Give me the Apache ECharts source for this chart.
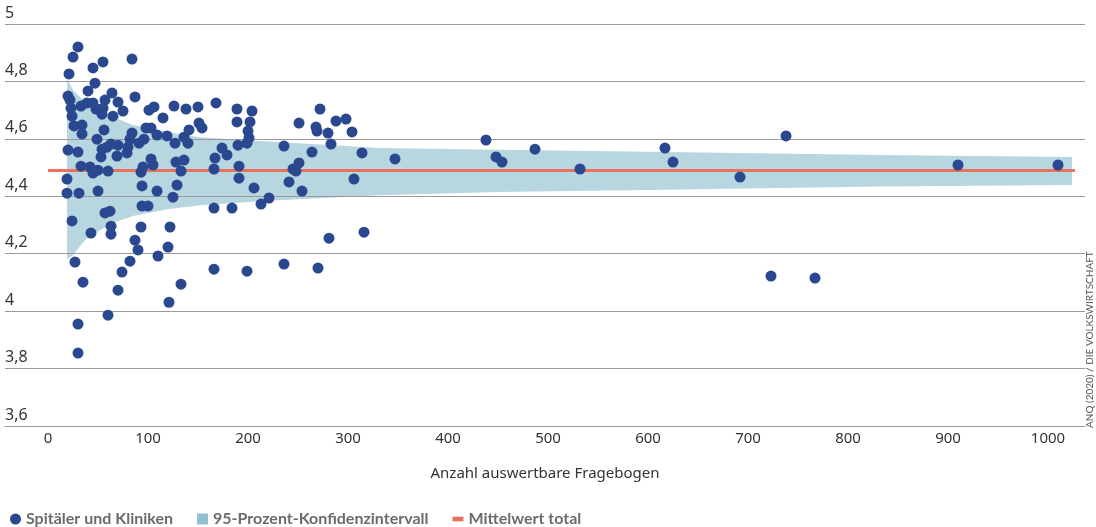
<!DOCTYPE html>
<html>
<head>
<meta charset="utf-8">
<script src="https://cdn.jsdelivr.net/npm/echarts@6/dist/echarts.min.js"></script>
<style>
  html, body { margin: 0; padding: 0; background: #fff; }
  #chart { width: 1096px; height: 527px; }
</style>
</head>
<body>
<div id="chart"></div>
<script>
// Spitäler: [Anzahl auswertbare Fragebogen, Mittelwert]
const hospitals = [
  [30,4.92],[25,4.885],[21,4.826],[45,4.847],[55,4.868],[84,4.878],
  [20,4.749],[22,4.735],[47,4.794],[40,4.767],[64,4.76],[70,4.728],[57,4.735],[87,4.746],
  [23,4.707],[24,4.679],[33,4.714],[39,4.725],[45,4.725],[48,4.704],[55,4.707],[54,4.686],[65,4.679],[75,4.697],
  [101,4.70],[106,4.711],[115,4.673],[126,4.714],[138,4.704],[150,4.711],
  [26,4.645],[34,4.648],[34,4.617],[56,4.631],[49,4.599],[84,4.62],[82,4.599],[98,4.638],[103,4.638],
  [109,4.613],[119,4.61],[136,4.606],[141,4.631],[151,4.655],[154,4.638],
  [20,4.561],[30,4.554],[54,4.564],[59,4.571],[63,4.582],[70,4.578],[80,4.571],[91,4.585],[96,4.599],
  [127,4.585],[140,4.585],
  [53,4.537],[69,4.54],[79,4.551],[103,4.53],[105,4.509],[128,4.519],[136,4.526],
  [33,4.505],[42,4.502],[45,4.481],[50,4.491],[60,4.488],[93,4.484],[95,4.502],[133,4.488],
  [19,4.46],[19,4.411],[31,4.411],[50,4.418],[94,4.436],[109,4.418],[129,4.439],[125,4.397],
  [57,4.342],[62,4.348],[94,4.366],[100,4.366],[24,4.314],[43,4.272],[63,4.296],[63,4.268],[93,4.293],[122,4.293],
  [87,4.247],[90,4.213],[110,4.192],[120,4.223],[27,4.171],[82,4.174],[74,4.136],[35,4.101],[70,4.073],
  [133,4.094],[121,4.031],[60,3.986],[30,3.955],[30,3.854],
  [168,4.725],[189,4.704],[204,4.697],[189,4.659],[202,4.659],[200,4.627],[201,4.603],[199,4.585],
  [174,4.568],[179,4.544],[167,4.533],[190,4.578],[166,4.495],[191,4.505],[191,4.463],[206,4.429],
  [221,4.394],[213,4.373],[166,4.359],[184,4.359],
  [236,4.575],[251,4.655],[268,4.641],[269,4.627],[272,4.704],[288,4.662],[298,4.669],[304,4.624],
  [280,4.62],[283,4.582],[264,4.554],[314,4.551],[245,4.495],[248,4.488],[251,4.516],[241,4.45],
  [254,4.418],[306,4.46],[281,4.254],[316,4.275],[166,4.146],[199,4.139],[236,4.164],[270,4.15],
  [347,4.53],[438,4.596],[448,4.537],[454,4.519],[487,4.564],[532,4.495],[617,4.568],[625,4.519],
  [692,4.467],[738,4.61],[723,4.122],[767,4.115],[910,4.509],[1010,4.509]
];

// 95%-Konfidenzintervall (Trichter)
const ciN     = [19, 25, 32, 40, 52, 65, 85, 100, 119, 152, 200, 250, 332, 450, 600, 832, 1024];
const ciUpper = [4.81, 4.77, 4.746, 4.72, 4.69, 4.676, 4.648, 4.638, 4.624, 4.606, 4.595, 4.585, 4.568, 4.562, 4.555, 4.544, 4.537];
const ciLower = [4.18, 4.195, 4.226, 4.258, 4.282, 4.307, 4.331, 4.342, 4.355, 4.369, 4.38, 4.39, 4.404, 4.415, 4.422, 4.434, 4.439];

const meanTotal = 4.49;
const meanRange = [0, 1027];

const xTickLabels = [0, 100, 200, 300, 400, 500, 600, 700, 800, 900, 1000];

const FONT = 'Noto Sans';

const myChart = echarts.init(document.getElementById('chart'), null, { renderer: 'canvas' });

// band polygon: upper edge left->right, lower edge right->left
function renderBand(params, api) {
  const pts = [];
  for (let i = 0; i < ciN.length; i++) pts.push(api.coord([ciN[i], ciUpper[i]]));
  for (let i = ciN.length - 1; i >= 0; i--) pts.push(api.coord([ciN[i], ciLower[i]]));
  return {
    type: 'polygon',
    shape: { points: pts },
    style: { fill: '#b7d6df' }
  };
}

myChart.setOption({
  animation: false,
  grid: {
    left: 5,
    right: 11,
    top: 24,
    bottom: 101,
    containLabel: false,
    outerBoundsMode: 'none'
  },
  legend: {
    left: 5,
    top: 506,
    itemGap: 24,
    itemWidth: 11,
    itemHeight: 11,
    textStyle: {
      color: '#6b6b6b',
      fontFamily: 'Lato',
      fontWeight: 'bold',
      fontSize: 16
    },
    data: [
      { name: 'Spitäler und Kliniken', icon: 'circle' },
      { name: '95-Prozent-Konfidenzintervall', icon: 'rect', itemStyle: { color: '#8fc2d1' } },
      { name: 'Mittelwert total', icon: 'path://M0,0h12v5h-12z', itemStyle: { color: '#e8735d' } }
    ]
  },
  xAxis: {
    type: 'value',
    min: -43,
    max: 1037,
    name: 'Anzahl auswertbare Fragebogen',
    nameLocation: 'middle',
    nameGap: 40,
    nameTextStyle: { color: '#333', fontFamily: FONT, fontSize: 15 },
    axisLine: { show: true, onZero: false, lineStyle: { color: '#808080', width: 1 } },
    axisTick: { show: false },
    splitLine: { show: false },
    axisLabel: {
      customValues: xTickLabels,
      color: '#333',
      fontFamily: FONT,
      fontSize: 15,
      margin: 5,
      formatter: function (v) { return String(v); }
    }
  },
  yAxis: {
    type: 'value',
    min: 3.6,
    max: 5,
    interval: 0.2,
    z: 1,
    axisLine: { show: false },
    axisTick: { show: false },
    splitLine: { show: true, lineStyle: { color: '#9a9a9a', width: 1 } },
    axisLabel: {
      inside: true,
      margin: 0,
      align: 'left',
      verticalAlign: 'bottom',
      padding: [0, 0, 3, 0],
      color: '#333',
      fontFamily: FONT,
      fontSize: 16,
      formatter: function (v) {
        return String(Number(v.toFixed(1))).replace('.', ',');
      }
    }
  },
  graphic: [
    {
      type: 'text',
      x: 1090,
      y: 428,
      rotation: Math.PI / 2,
      style: {
        text: 'ANQ (2020) / DIE VOLKSWIRTSCHAFT',
        fill: '#555',
        font: '10px Lato',
        align: 'left',
        verticalAlign: 'middle'
      }
    }
  ],
  series: [
    {
      name: '95-Prozent-Konfidenzintervall',
      type: 'custom',
      silent: true,
      z: 0,
      itemStyle: { color: '#8fc2d1' },
      renderItem: renderBand,
      data: [[ciN[0], ciLower[0]]]
    },
    {
      name: 'Mittelwert total',
      type: 'line',
      symbol: 'none',
      silent: true,
      z: 2,
      itemStyle: { color: '#e8735d' },
      lineStyle: { color: '#e8735d', width: 3 },
      data: meanRange.map(n => [n, meanTotal])
    },
    {
      name: 'Spitäler und Kliniken',
      type: 'scatter',
      symbolSize: 11,
      z: 3,
      itemStyle: { color: '#2a4890', opacity: 1 },
      data: hospitals
    }
  ]
});
</script>
</body>
</html>
